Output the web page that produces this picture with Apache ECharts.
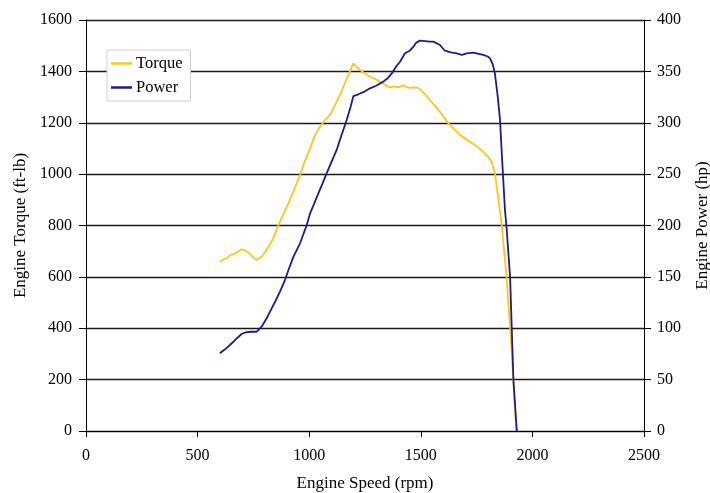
<!DOCTYPE html>
<html>
<head>
<meta charset="utf-8">
<script src="https://cdn.jsdelivr.net/npm/echarts@6/dist/echarts.min.js"></script>
<style>html,body{margin:0;padding:0;background:#fff}#c{width:710px;height:493px}</style>
</head>
<body>
<div id="c"></div>
<script>
const torqueRpm = [600,615,630,645,665,680,697,712,727,745,762,775,787,805,825,839,862,885,907,930,959,980,1004,1025,1045,1071,1093,1115,1138,1160,1180,1198,1212,1228,1250,1272,1300,1332,1345,1362,1380,1395,1407,1422,1437,1452,1470,1489,1510,1525,1541,1565,1586,1605,1623,1650,1676,1700,1720,1750,1780,1800,1817,1832,1845,1862,1884,1907,1922,1930];
const torque = [659,668,672,685,690,698,707,703,695,680,666,670,679,700,728,750,802,845,886,935,996,1050,1100,1150,1180,1211,1230,1268,1308,1355,1395,1431,1418,1405,1392,1379,1368,1353,1345,1337,1342,1338,1340,1347,1338,1336,1338,1336,1318,1305,1288,1265,1243,1220,1198,1175,1152,1138,1126,1108,1087,1070,1048,1003,920,808,601,315,82,0];
const powerRpm = [600,620,645,670,697,715,735,765,787,810,832,850,869,890,907,930,959,989,1004,1020,1041,1060,1078,1100,1123,1145,1168,1185,1198,1220,1245,1272,1300,1332,1350,1370,1390,1407,1429,1450,1467,1480,1496,1520,1540,1556,1586,1608,1635,1661,1685,1705,1735,1760,1780,1800,1810,1822,1832,1845,1855,1862,1877,1884,1900,1915,1930];
const power = [75.6,79,83.7,89,94.4,96,96.6,96.6,101.5,110,119.4,127,135.6,146,156.7,170,182.7,200.5,211.9,220,231.3,241,250.8,262,273.5,288,302.7,315,326,327.7,330,333.5,336,340,343,348,355,359.4,367.6,370,374,378,379.9,379.5,379,378.9,375.7,370.1,368.5,367.6,366,367.6,368.2,367,366,364.5,362.7,357,348.1,325,302.7,273.5,215.1,198.8,150,49.6,0];

const FONT = '"Liberation Serif", "Times New Roman", serif';
const plain = v => String(v);
const chart = echarts.init(document.getElementById('c'), null, {renderer: 'canvas'});
chart.setOption({
  animation: false,
  backgroundColor: '#fff',
  grid: {left: 86, right: 66, top: 20, bottom: 62, containLabel: false, outerBoundsMode: 'none'},
  legend: {
    orient: 'vertical', left: 107, top: 50,
    data: ['Torque', 'Power'],
    icon: 'rect', itemWidth: 21, itemHeight: 2.5, itemGap: 7,
    padding: [5, 8, 5, 4],
    borderColor: '#d0d0d0', borderWidth: 1, backgroundColor: '#fff',
    textStyle: {fontFamily: FONT, fontSize: 16.5, color: '#000', padding: [0,0,0,-1]}
  },
  xAxis: {
    type: 'value', min: 0, max: 2500, interval: 500,
    name: 'Engine Speed (rpm)', nameLocation: 'middle', nameGap: 44,
    nameTextStyle: {fontFamily: FONT, fontSize: 17, color: '#000'},
    axisLine: {show: true, lineStyle: {color: '#000', width: 1}},
    axisTick: {show: true, inside: false, length: 6, lineStyle: {color: '#000'}},
    axisLabel: {fontFamily: FONT, fontSize: 16, color: '#000', margin: 17, formatter: plain},
    splitLine: {show: false}
  },
  yAxis: [{
    type: 'value', min: 0, max: 1600, interval: 200, position: 'left',
    name: 'Engine Torque (ft-lb)', nameLocation: 'middle', nameGap: 57, nameRotate: 90,
    nameTextStyle: {fontFamily: FONT, fontSize: 17, color: '#000'},
    axisLine: {show: true, lineStyle: {color: '#000', width: 1}},
    axisTick: {show: true, inside: false, length: 7, lineStyle: {color: '#000'}},
    axisLabel: {fontFamily: FONT, fontSize: 16, color: '#000', margin: 14, formatter: plain},
    splitLine: {show: true, lineStyle: {color: '#1a1a1a', width: 1.4}}
  }, {
    type: 'value', min: 0, max: 400, interval: 50, position: 'right',
    name: 'Engine Power (hp)', nameLocation: 'middle', nameGap: 50, nameRotate: 90,
    nameTextStyle: {fontFamily: FONT, fontSize: 17, color: '#000'},
    axisLine: {show: true, lineStyle: {color: '#000', width: 1}},
    axisTick: {show: true, inside: false, length: 7, lineStyle: {color: '#000'}},
    axisLabel: {fontFamily: FONT, fontSize: 16, color: '#000', margin: 13, formatter: plain},
    splitLine: {show: false}
  }],
  series: [{
    name: 'Torque', type: 'line', yAxisIndex: 0, showSymbol: false, symbol: 'none',
    data: torqueRpm.map((r, i) => [r, torque[i]]),
    lineStyle: {color: '#FFC61A', width: 1.8}, itemStyle: {color: '#FFC61A'}
  }, {
    name: 'Power', type: 'line', yAxisIndex: 1, showSymbol: false, symbol: 'none',
    data: powerRpm.map((r, i) => [r, power[i]]),
    lineStyle: {color: '#1C1C8A', width: 1.8}, itemStyle: {color: '#1C1C8A'}
  }]
});
</script>
</body>
</html>
